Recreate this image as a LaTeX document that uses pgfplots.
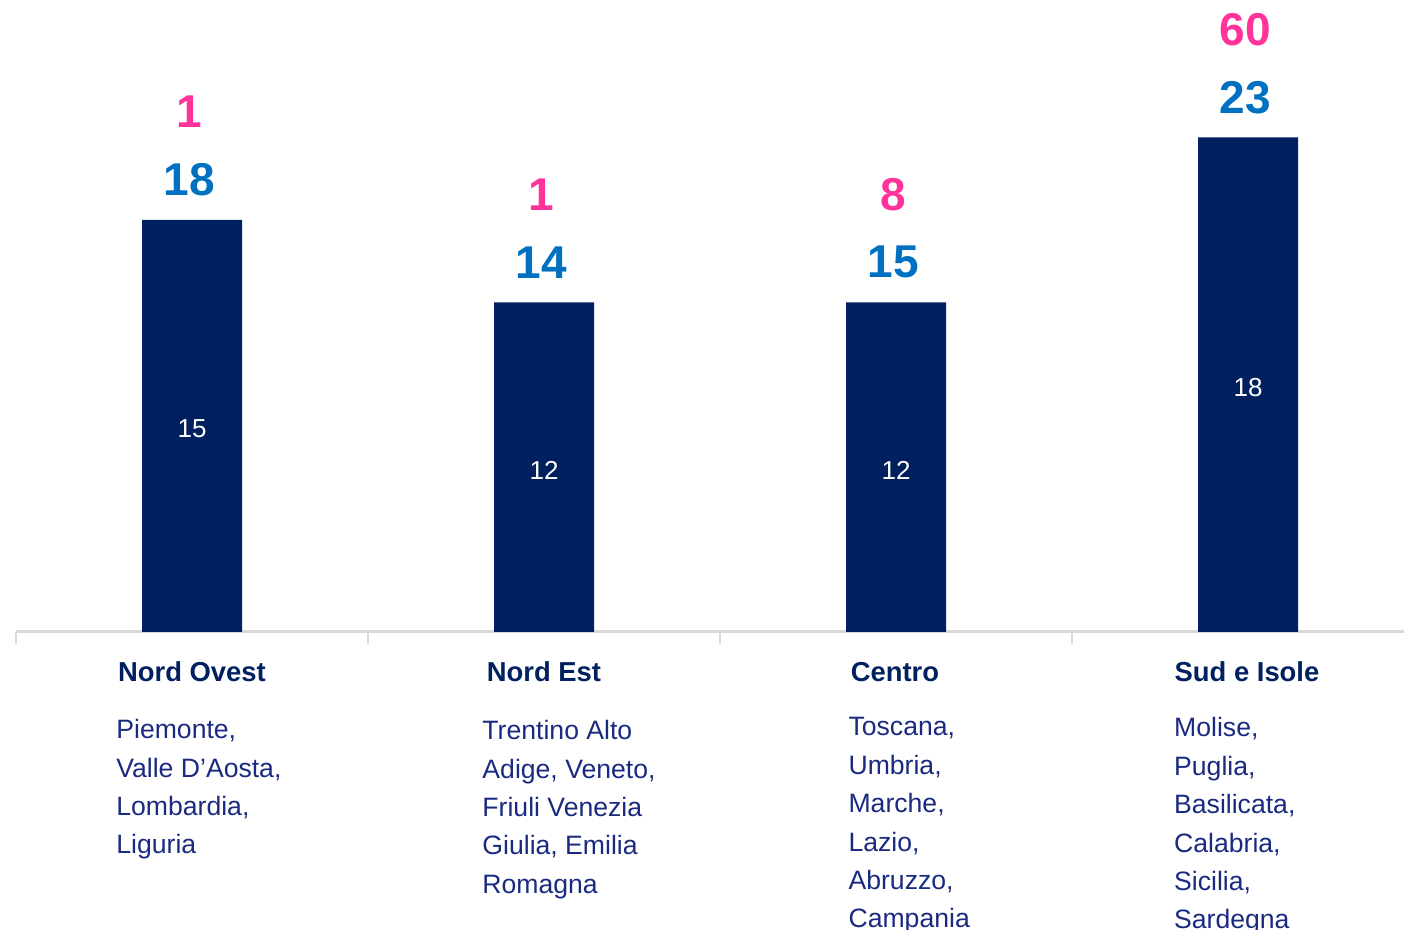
\documentclass[border=0pt]{standalone}
\usepackage{pgfplots}
\pgfplotsset{compat=1.18}
\usepackage{fontspec}
\setmainfont{Liberation Sans}
\definecolor{barnavy}{HTML}{002060}
\definecolor{lblblue}{HTML}{0070C0}
\definecolor{lblpink}{HTML}{FF3399}
\definecolor{txtnavy}{HTML}{1A2A80}
\definecolor{axgray}{HTML}{D9D9D9}
\begin{document}
\begin{tikzpicture}
\useasboundingbox (-8pt,-149pt) rectangle (694pt,316pt);
\clip (-8pt,-149pt) rectangle (694pt,316pt);
\begin{axis}[
  scale only axis, width=694pt, height=316pt,
  xmin=-0.5, xmax=3.443, ymin=0, ymax=23,
  axis x line=bottom, axis y line=none,
  x axis line style={-, axgray, line width=1.5pt},
  xtick={-0.5,0.5,1.5,2.5}, xticklabels={},
  tick align=outside, major tick length=6pt,
  x tick style={axgray, line width=1pt},
  clip=false,
]
\addplot[ybar, bar width=50pt, fill=barnavy, draw=none] coordinates {(0,15) (1,12) (2,12) (3,18)};
% inner labels
\addplot[draw=none, mark=none, point meta=explicit symbolic, nodes near coords,
  nodes near coords style={anchor=center, yshift=-1.5pt, text=white, font=\fontsize{13}{15}\selectfont}]
  coordinates {(0,7.5) [15] (1,6) [12] (2,6) [12] (3,9) [18]};
% blue labels
\addplot[draw=none, mark=none, point meta=explicit symbolic, nodes near coords,
  nodes near coords style={anchor=center, xshift=-1.5pt, yshift=20pt, text=lblblue, font=\fontsize{23}{26}\selectfont\bfseries}]
  coordinates {(0,15) [18] (1,12) [14] (2,12) [15] (3,18) [23]};
% pink labels
\addplot[draw=none, mark=none, point meta=explicit symbolic, nodes near coords,
  nodes near coords style={anchor=center, xshift=-1.5pt, yshift=54pt, text=lblpink, font=\fontsize{23}{26}\selectfont\bfseries}]
  coordinates {(0,15) [1] (1,12) [1] (2,12) [8] (3,18) [60]};
% category titles
\node[anchor=center, text=barnavy, font=\fontsize{13.7}{16}\selectfont\bfseries] at (axis cs:0,-1.456) {Nord Ovest};
\node[anchor=center, text=barnavy, font=\fontsize{13.7}{16}\selectfont\bfseries] at (axis cs:1,-1.456) {Nord Est};
\node[anchor=center, text=barnavy, font=\fontsize{13.7}{16}\selectfont\bfseries] at (axis cs:1.997,-1.456) {Centro};
\node[anchor=center, text=barnavy, font=\fontsize{13.7}{16}\selectfont\bfseries] at (axis cs:2.997,-1.456) {Sud e Isole};
\node[anchor=north west, inner sep=0pt, align=left, text=txtnavy, font=\fontsize{13.3}{19.2}\selectfont]
  at (axis cs:-0.216,-3.166) {Piemonte,\\Valle D’Aosta,\\Lombardia,\\Liguria};
\node[anchor=north west, inner sep=0pt, align=left, text=txtnavy, font=\fontsize{13.3}{19.2}\selectfont]
  at (axis cs:0.824,-3.2) {Trentino Alto\\Adige, Veneto,\\Friuli Venezia\\Giulia, Emilia\\Romagna};
\node[anchor=north west, inner sep=0pt, align=left, text=txtnavy, font=\fontsize{13.3}{19.2}\selectfont]
  at (axis cs:1.864,-3.1) {Toscana,\\Umbria,\\Marche,\\Lazio,\\Abruzzo,\\Campania};
\node[anchor=north west, inner sep=0pt, align=left, text=txtnavy, font=\fontsize{13.3}{19.2}\selectfont]
  at (axis cs:2.789,-3.1) {Molise,\\Puglia,\\Basilicata,\\Calabria,\\Sicilia,\\Sardegna};
\end{axis}
\end{tikzpicture}
\end{document}
